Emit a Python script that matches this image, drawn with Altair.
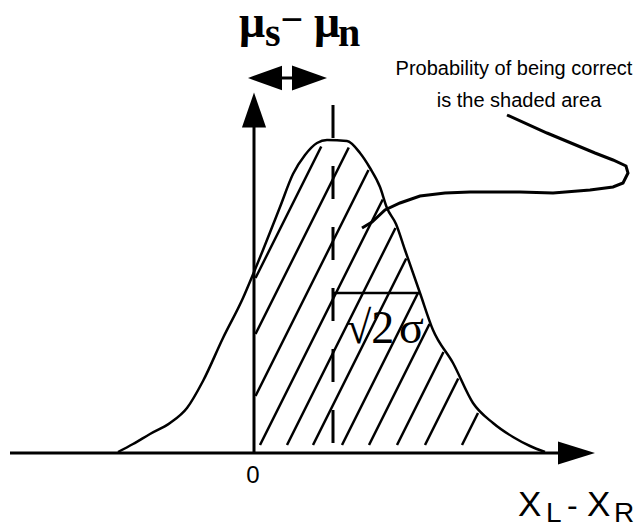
import altair as alt
import numpy as np
import pandas as pd

# Diagram units: x = offset from the origin "0" along X_L - X_R, y = height above the baseline
curve_x = [-136, -121, -104, -84, -67, -51, -31, -11, 0, 9, 26, 39, 51, 63, 73, 93, 106, 116,
           126, 133, 142, 151, 166, 179, 199, 219, 239, 259, 276, 291]
curve_y = [1, 9, 19, 30, 45, 72, 115, 155, 181, 203, 246, 279, 298, 310, 313, 312, 300, 285,
           266, 245, 229, 203, 160, 123, 90, 50, 30, 16, 7, 1]

pointer_x = [108, 118, 131, 146, 166, 191, 216, 266, 299, 336, 359, 369, 374, 372, 359, 341, 293, 253]
pointer_y = [225, 231, 243, 250, 257, 260, 261, 261, 260, 263, 266, 270, 280, 287, 293, 300, 320, 338]

# baseline intercepts of the hatch lines, and their slope
hatch_c = [-86, -58, -27, 2, 29, 55, 84, 111, 139, 167, 204]
hatch_slope = 2.0

mean_diff = 79          # mu_s - mu_n
sigma_level = 160       # height of the sqrt(2) sigma bracket
sigma_end = 166
axis_left = -244
axis_right = 304
vaxis_top = 328
dash_top = 348

xs = alt.Scale(domain=[-246, 381], nice=False, zero=False)
ys = alt.Scale(domain=[-70, 445], nice=False, zero=False)
X = lambda f: alt.X(f, type="quantitative", scale=xs, axis=None)
Y = lambda f: alt.Y(f, type="quantitative", scale=ys, axis=None)

# --- curve
curve_df = pd.DataFrame({"x": curve_x, "y": curve_y, "i": range(len(curve_x))})
curve = alt.Chart(curve_df).mark_line(color="black", strokeWidth=2.5, interpolate="monotone").encode(
    x=X("x"), y=Y("y"), order="i:Q")

# --- pointer
ptr_df = pd.DataFrame({"x": pointer_x, "y": pointer_y, "i": range(len(pointer_x))})
pointer = alt.Chart(ptr_df).mark_line(color="black", strokeWidth=3).encode(
    x=X("x"), y=Y("y"), order="i:Q")

# --- hatch segments (each runs from the baseline / vertical axis up to the curve)
cx = np.array(curve_x, float)
cy = np.array(curve_y, float)
rows = []
for c in hatch_c:
    xs0 = max(1.5, c + 4)
    h0 = hatch_slope * (xs0 - c)
    grid = np.arange(xs0, 300, 0.25)
    line_h = hatch_slope * (grid - c)
    cur_h = np.interp(grid, cx, cy) - 5
    idx = np.argmax(line_h >= cur_h)
    xe = grid[idx]
    rows.append({"x": xs0, "y": h0, "x2": xe, "y2": hatch_slope * (xe - c)})
hatch_df = pd.DataFrame(rows)
hatch = alt.Chart(hatch_df).mark_rule(color="black", strokeWidth=2.5).encode(
    x=X("x"), y=Y("y"), x2="x2", y2="y2")

# --- straight lines: axes, sigma bracket, double-arrow shaft
lines_df = pd.DataFrame([
    {"x": axis_left, "y": 0, "x2": axis_right, "y2": 0, "w": 3},
    {"x": 0, "y": 0, "x2": 0, "y2": vaxis_top, "w": 3},
    {"x": mean_diff, "y": sigma_level, "x2": sigma_end, "y2": sigma_level, "w": 2.5},
    {"x": 28, "y": 375, "x2": 38, "y2": 375, "w": 3},
])
lines = alt.Chart(lines_df).mark_rule(color="black").encode(
    x=X("x"), y=Y("y"), x2="x2", y2="y2", strokeWidth=alt.StrokeWidth("w:Q", scale=None))

dash_df = pd.DataFrame({"x": [mean_diff], "y": [dash_top], "y2": [0]})
dashed = alt.Chart(dash_df).mark_rule(color="black", strokeWidth=3, strokeDash=[33, 28]).encode(
    x=X("x"), y=Y("y"), y2="y2")

# --- arrowheads
def head(xv, yv, shape, size):
    return alt.Chart(pd.DataFrame({"x": [xv], "y": [yv]})).mark_point(
        shape=shape, size=size, filled=True, color="black", opacity=1, strokeWidth=0
    ).encode(x=X("x"), y=Y("y"))

heads = [
    head(0, 343, "M0,-1L0.69,1L-0.69,1Z", 1225),
    head(322.5, 0, "M1,0L-1,-0.62L-1,0.62Z", 1369),
    head(11, 375, "M-1,0L1,-0.72L1,0.72Z", 1156),
    head(55.5, 375, "M1,0L-1,-0.72L-1,0.72Z", 1225),
]

# --- texts
sans = "Liberation Sans, Arial, sans-serif"
serif = "Liberation Serif, DejaVu Serif, serif"

def txt(xv, yv, s, size, font, align="left", baseline="alphabetic", weight="normal"):
    return alt.Chart(pd.DataFrame({"x": [xv], "y": [yv], "t": [s]})).mark_text(
        align=align, baseline=baseline, fontSize=size, font=font, fontWeight=weight, color="black"
    ).encode(x=X("x"), y=Y("y"), text="t:N")

texts = [
    txt(-15, 416, "μ", 46, serif, weight="bold"),
    txt(11, 407, "s", 40, serif, weight="bold"),
    txt(38, 420, "−", 40, serif, align="center", weight="bold"),
    txt(60, 416, "μ", 46, serif, weight="bold"),
    txt(84, 407, "n", 40, serif, weight="bold"),
    txt(260, 378, "Probability of being correct", 20, sans, align="center"),
    txt(265, 346, "is the shaded area", 20, sans, align="center"),
    txt(-1, -23, "0", 24, sans, align="center", baseline="middle"),
    txt(92, 110, "√2", 46, serif),
    txt(145, 110, "σ", 46, serif),
    txt(264, -63, "X", 35, sans),
    txt(292, -69, "L", 28, sans),
    txt(313, -63, "-", 32, sans),
    txt(333, -63, "X", 35, sans),
    txt(360, -69, "R", 28, sans),
]

chart = alt.layer(hatch, curve, pointer, lines, dashed, *heads, *texts).properties(
    width=627, height=515, padding=0, autosize=alt.AutoSizeParams(type="none"),
    background="white",
).configure_view(stroke=None)

chart.save("out.html", embed_options={"renderer": "svg", "actions": False})
